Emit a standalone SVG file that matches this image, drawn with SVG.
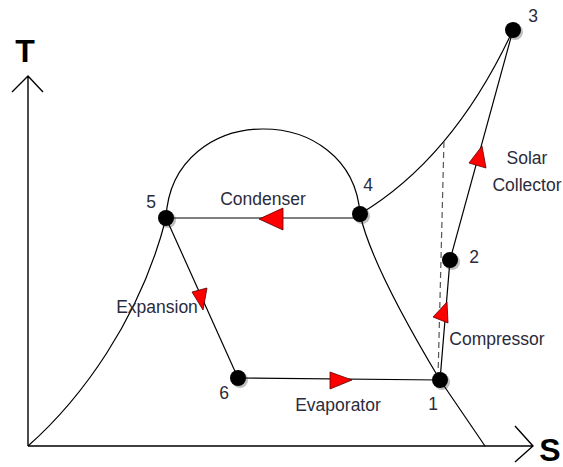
<svg xmlns="http://www.w3.org/2000/svg" width="563" height="467" viewBox="0 0 563 467">
<style>
.ln{fill:none;stroke:#000;stroke-width:1.2}
.ax{fill:none;stroke:#000;stroke-width:1.4}
.arr{fill:#ff0000;stroke:#5a0000;stroke-width:0.8}
.dot{fill:#000}
.sh{fill:#000;opacity:0.25}
.lb{font-family:"Liberation Sans",Arial,sans-serif;font-size:17.5px;fill:#2b2b3b}
.ax-lb{font-family:"Liberation Sans",Arial,sans-serif;font-size:32px;font-weight:bold;fill:#000}
</style>
<rect width="563" height="467" fill="#fff"/>
<g id="axes">
<path class="ax" d="M28,446 V77 M12,92 L28,76 L43,92"/>
<path class="ax" d="M28,446 H533 M515,426 L533,446 L515,462"/>
<text class="ax-lb" x="25" y="62" text-anchor="middle">T</text>
<text class="ax-lb" x="550" y="461" text-anchor="middle">S</text>
</g>
<g id="connectors">
<path class="ln" d="M28,446 C80,400 140,320 166,218 C172,100 352,100 360,214 C370,260 410,330 440,380 L485,446"/>
<path class="ln" d="M360,214 Q453.5,158 513,30"/>
<line class="ln" x1="166" y1="218" x2="360" y2="218"/>
<line class="ln" x1="166" y1="218" x2="238" y2="378"/>
<line class="ln" x1="238" y1="378" x2="440" y2="380"/>
<line class="ln" x1="440" y1="380" x2="450" y2="260"/>
<line class="ln" x1="450" y1="260" x2="513" y2="30"/>
<line x1="438" y1="378" x2="444" y2="140" stroke="#555" stroke-width="1.2" stroke-dasharray="6,4"/>
<polygon class="arr" points="259,219 283,208 283,230"/>
<polygon class="arr" points="192,292 207,288 203,310"/>
<polygon class="arr" points="352,380 330,372 330,389"/>
<polygon class="arr" points="433,317 447,302 448,323"/>
<polygon class="arr" points="469,163 482,146 486,168"/>
</g>
<g id="n1"><circle class="sh" cx="442" cy="382" r="8"/><circle class="dot" cx="440" cy="380" r="8"/><text class="lb" x="433" y="410" text-anchor="middle">1</text></g>
<g id="n2"><circle class="sh" cx="452" cy="262" r="8"/><circle class="dot" cx="450" cy="260" r="8"/><text class="lb" x="474" y="263" text-anchor="middle">2</text></g>
<g id="n3"><circle class="sh" cx="515" cy="32" r="8"/><circle class="dot" cx="513" cy="30" r="8"/><text class="lb" x="533" y="22" text-anchor="middle">3</text></g>
<g id="n4"><circle class="sh" cx="362" cy="216" r="8"/><circle class="dot" cx="360" cy="214" r="8"/><text class="lb" x="368" y="191" text-anchor="middle">4</text></g>
<g id="n5"><circle class="sh" cx="168" cy="220" r="8"/><circle class="dot" cx="166" cy="218" r="8"/><text class="lb" x="151" y="208" text-anchor="middle">5</text></g>
<g id="n6"><circle class="sh" cx="240" cy="380" r="8"/><circle class="dot" cx="238" cy="378" r="8"/><text class="lb" x="224" y="399" text-anchor="middle">6</text></g>
<g id="labels">
<text class="lb" x="263" y="205" text-anchor="middle">Condenser</text>
<text class="lb" x="157" y="313" text-anchor="middle">Expansion</text>
<text class="lb" x="338" y="411" text-anchor="middle">Evaporator</text>
<text class="lb" x="497" y="345" text-anchor="middle">Compressor</text>
<text class="lb" x="527" y="164" text-anchor="middle">Solar</text>
<text class="lb" x="527" y="191" text-anchor="middle">Collector</text>
</g>
</svg>
